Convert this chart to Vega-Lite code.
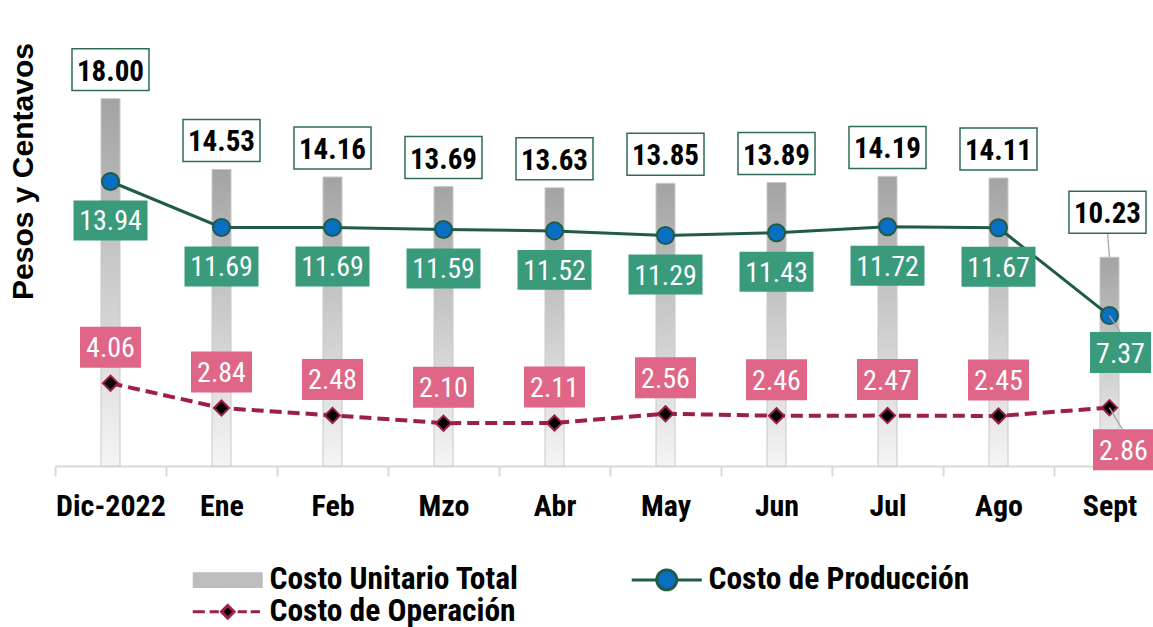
{
  "$schema": "https://vega.github.io/schema/vega-lite/v6.json",
  "width": 1098,
  "height": 449,
  "autosize": {"type": "none"},
  "padding": {"left": 55, "top": 17, "right": 0, "bottom": 161},
  "background": "white",
  "config": {"view": {"stroke": null}},
  "title": {
    "text": "Pesos y Centavos", "orient": "left", "anchor": "middle", "frame": "group",
    "font": "Liberation Sans", "fontSize": 30, "fontWeight": "bold", "color": "black",
    "offset": 15, "dx": 70
  },
  "layer": [
    {
      "data": {"values": [
        {"mes": "Dic-2022", "total": 18.00, "prod": 13.94, "oper": 4.06},
        {"mes": "Ene", "total": 14.53, "prod": 11.69, "oper": 2.84},
        {"mes": "Feb", "total": 14.16, "prod": 11.69, "oper": 2.48},
        {"mes": "Mzo", "total": 13.69, "prod": 11.59, "oper": 2.10},
        {"mes": "Abr", "total": 13.63, "prod": 11.52, "oper": 2.11},
        {"mes": "May", "total": 13.85, "prod": 11.29, "oper": 2.56},
        {"mes": "Jun", "total": 13.89, "prod": 11.43, "oper": 2.46},
        {"mes": "Jul", "total": 14.19, "prod": 11.72, "oper": 2.47},
        {"mes": "Ago", "total": 14.11, "prod": 11.67, "oper": 2.45},
        {"mes": "Sept", "total": 10.23, "prod": 7.37, "oper": 2.86}
      ]},
      "encoding": {
        "x": {
          "field": "mes", "type": "nominal", "sort": null,
          "scale": {"range": [0, 1110], "paddingInner": 0, "paddingOuter": 0},
          "axis": {
            "title": null, "labelAngle": 0, "labelFont": "Roboto Condensed, DejaVu Sans Condensed, Liberation Sans", "labelFontSize": 30,
            "labelFontWeight": "bold", "labelColor": "black", "labelPadding": 15,
            "domainColor": "#d9d9d9", "domainWidth": 2, "tickColor": "#d9d9d9", "tickWidth": 2,
            "tickSize": 10, "tickBand": "extent", "grid": false
          }
        }
      },
      "layer": [
        {
          "mark": {
            "type": "bar", "width": 19,
            "fill": {"gradient": "linear", "x1": 0, "y1": 0, "x2": 0, "y2": 1,
              "stops": [{"offset": 0, "color": "#a3a3a3"}, {"offset": 1, "color": "#f5f5f5"}]},
            "stroke": "#c8c8c8", "strokeWidth": 1
          },
          "encoding": {
            "y": {
              "field": "total", "type": "quantitative", "title": null,
              "scale": {"domain": [0, 22], "nice": false, "zero": true},
              "axis": {
                "orient": "left", "title": null, "labels": false, "ticks": false, "domain": false,
                "grid": true, "gridColor": "#d9d9d9", "gridWidth": 2,
                "values": [2, 4, 6, 8, 10, 12, 14, 16, 18, 20, 22]
              }
            }
          }
        },
        {
          "mark": {"type": "line", "stroke": "#1f5b47", "strokeWidth": 3},
          "encoding": {"y": {"field": "prod", "type": "quantitative", "axis": null}}
        },
        {
          "mark": {"type": "line", "stroke": "#9d1e48", "strokeWidth": 4, "strokeDash": [12, 6]},
          "encoding": {"y": {"field": "oper", "type": "quantitative", "axis": null}}
        },
        {
          "mark": {"type": "point", "shape": "circle", "filled": true, "fill": "#0a6fc2", "stroke": "#1f5b47", "strokeWidth": 2, "size": 290, "opacity": 1},
          "encoding": {"y": {"field": "prod", "type": "quantitative", "axis": null}}
        },
        {
          "mark": {"type": "point", "shape": "diamond", "filled": true, "fill": "black", "stroke": "#9d1e48", "strokeWidth": 2, "size": 230, "opacity": 1},
          "encoding": {"y": {"field": "oper", "type": "quantitative", "axis": null}}
        },
        {
          "transform": [{"filter": "datum.mes !== 'Sept'"}],
          "layer": [
            {
              "mark": {"type": "point", "filled": true, "fill": "white", "stroke": "#2e6b57", "strokeWidth": 1.5, "opacity": 1,
                "shape": "M-1,-0.545H1V0.545H-1Z", "size": 5929, "yOffset": -29},
              "encoding": {"y": {"field": "total", "type": "quantitative", "axis": null}}
            },
            {
              "mark": {"type": "text", "font": "Roboto Condensed, DejaVu Sans Condensed, Liberation Sans", "fontSize": 29, "fontWeight": "bold", "color": "black", "baseline": "middle", "align": "center", "dy": -27},
              "encoding": {"y": {"field": "total", "type": "quantitative", "axis": null}, "text": {"field": "total", "type": "quantitative", "format": ".2f"}}
            },
            {
              "mark": {"type": "point", "filled": true, "fill": "#3a9a7c", "strokeWidth": 0, "opacity": 1,
                "shape": "M-1,-0.54H1V0.54H-1Z", "size": 5476, "yOffset": 39},
              "encoding": {"y": {"field": "prod", "type": "quantitative", "axis": null}}
            },
            {
              "mark": {"type": "text", "font": "Roboto Condensed, DejaVu Sans Condensed, Liberation Sans", "fontSize": 28, "color": "white", "baseline": "middle", "align": "center", "dy": 41},
              "encoding": {"y": {"field": "prod", "type": "quantitative", "axis": null}, "text": {"field": "prod", "type": "quantitative", "format": ".2f"}}
            },
            {
              "mark": {"type": "point", "filled": true, "fill": "#e06687", "strokeWidth": 0, "opacity": 1,
                "shape": "M-1,-0.672H1V0.672H-1Z", "size": 3721, "yOffset": -36},
              "encoding": {"y": {"field": "oper", "type": "quantitative", "axis": null}}
            },
            {
              "mark": {"type": "text", "font": "Roboto Condensed, DejaVu Sans Condensed, Liberation Sans", "fontSize": 28, "color": "white", "baseline": "middle", "align": "center", "dy": -34},
              "encoding": {"y": {"field": "oper", "type": "quantitative", "axis": null}, "text": {"field": "oper", "type": "quantitative", "format": ".2f"}}
            }
          ]
        },
        {
          "transform": [{"filter": "datum.mes === 'Sept'"}],
          "layer": [
            {
              "mark": {"type": "rule", "color": "#a6a6a6", "strokeWidth": 1.3, "y2Offset": -25, "x2Offset": -2},
              "encoding": {"y": {"field": "total", "type": "quantitative", "axis": null}, "y2": {"field": "total"}, "x2": {"field": "mes"}}
            },
            {
              "mark": {"type": "rule", "color": "#a6a6a6", "strokeWidth": 1.3, "y2Offset": 17, "x2Offset": 11},
              "encoding": {"y": {"field": "prod", "type": "quantitative", "axis": null}, "y2": {"field": "prod"}, "x2": {"field": "mes"}}
            },
            {
              "mark": {"type": "rule", "color": "#a6a6a6", "strokeWidth": 1.3, "y2Offset": 22, "x2Offset": 13},
              "encoding": {"y": {"field": "oper", "type": "quantitative", "axis": null}, "y2": {"field": "oper"}, "x2": {"field": "mes"}}
            },
            {
              "mark": {"type": "point", "filled": true, "fill": "white", "stroke": "#2e6b57", "strokeWidth": 1.5, "opacity": 1,
                "shape": "M-1,-0.545H1V0.545H-1Z", "size": 5929, "yOffset": -45, "xOffset": -2},
              "encoding": {"y": {"field": "total", "type": "quantitative", "axis": null}}
            },
            {
              "mark": {"type": "text", "font": "Roboto Condensed, DejaVu Sans Condensed, Liberation Sans", "fontSize": 29, "fontWeight": "bold", "color": "black", "baseline": "middle", "align": "center", "dy": -43, "dx": -2},
              "encoding": {"y": {"field": "total", "type": "quantitative", "axis": null}, "text": {"field": "total", "type": "quantitative", "format": ".2f"}}
            },
            {
              "mark": {"type": "point", "filled": true, "fill": "#3a9a7c", "strokeWidth": 0, "opacity": 1,
                "shape": "M-1,-0.672H1V0.672H-1Z", "size": 3721, "yOffset": 37, "xOffset": 11},
              "encoding": {"y": {"field": "prod", "type": "quantitative", "axis": null}}
            },
            {
              "mark": {"type": "text", "font": "Roboto Condensed, DejaVu Sans Condensed, Liberation Sans", "fontSize": 28, "color": "white", "baseline": "middle", "align": "center", "dy": 39, "dx": 11},
              "encoding": {"y": {"field": "prod", "type": "quantitative", "axis": null}, "text": {"field": "prod", "type": "quantitative", "format": ".2f"}}
            },
            {
              "mark": {"type": "point", "filled": true, "fill": "#e06687", "strokeWidth": 0, "opacity": 1,
                "shape": "M-1,-0.672H1V0.672H-1Z", "size": 3721, "yOffset": 42, "xOffset": 14},
              "encoding": {"y": {"field": "oper", "type": "quantitative", "axis": null}}
            },
            {
              "mark": {"type": "text", "font": "Roboto Condensed, DejaVu Sans Condensed, Liberation Sans", "fontSize": 28, "color": "white", "baseline": "middle", "align": "center", "dy": 44, "dx": 14},
              "encoding": {"y": {"field": "oper", "type": "quantitative", "axis": null}, "text": {"field": "oper", "type": "quantitative", "format": ".2f"}}
            }
          ]
        }
      ]
    },
    {
      "data": {"values": [
        {"serie": "Costo Unitario Total"},
        {"serie": "Costo de Producción"},
        {"serie": "Costo de Operación"}
      ]},
      "mark": {"type": "point", "filled": true, "opacity": 0},
      "encoding": {
        "fill": {
          "field": "serie", "type": "nominal", "sort": null,
          "scale": {
            "domain": ["Costo Unitario Total", "Costo de Producción", "Costo de Operación"],
            "range": ["#bdbdbd", "#0a6fc2", "black"]
          },
          "legend": {
            "title": null, "orient": "none", "legendX": 157, "legendY": 547, "columns": 2,
            "direction": "horizontal",
            "labelFont": "Roboto Condensed, DejaVu Sans Condensed, Liberation Sans", "labelFontSize": 31.5, "labelFontWeight": "bold", "labelColor": "black",
            "labelLimit": 400,
            "symbolSize": 784, "symbolStrokeWidth": 3, "symbolOpacity": 1,
            "labelOffset": 26, "columnPadding": 106, "rowPadding": -2, "padding": 0
          }
        },
        "stroke": {
          "field": "serie", "type": "nominal", "sort": null,
          "scale": {
            "domain": ["Costo Unitario Total", "Costo de Producción", "Costo de Operación"],
            "range": ["transparent", "#1f5b47", "#9d1e48"]
          },
          "legend": {
            "title": null, "orient": "none", "legendX": 157, "legendY": 547, "columns": 2,
            "direction": "horizontal",
            "labelFont": "Roboto Condensed, DejaVu Sans Condensed, Liberation Sans", "labelFontSize": 31.5, "labelFontWeight": "bold", "labelColor": "black",
            "labelLimit": 400,
            "symbolSize": 784, "symbolStrokeWidth": 3, "symbolOpacity": 1,
            "labelOffset": 26, "columnPadding": 106, "rowPadding": -2, "padding": 0
          }
        },
        "shape": {
          "field": "serie", "type": "nominal", "sort": null,
          "scale": {
            "domain": ["Costo Unitario Total", "Costo de Producción", "Costo de Operación"],
            "range": [
              "M-2.5,-0.57H2.5V0.57H-2.5Z",
              "M-2.5,0H-0.71M0.71,0H2.5M-0.71,0A0.71,0.71,0,1,1,0.71,0A0.71,0.71,0,1,1,-0.71,0Z",
              "M-2.5,0H-1.64M-1.29,0H-0.64M0.71,0H1.36M1.64,0H2.3M0,-0.45L0.45,0L0,0.45L-0.45,0Z"
            ]
          },
          "legend": {
            "title": null, "orient": "none", "legendX": 157, "legendY": 547, "columns": 2,
            "direction": "horizontal",
            "labelFont": "Roboto Condensed, DejaVu Sans Condensed, Liberation Sans", "labelFontSize": 31.5, "labelFontWeight": "bold", "labelColor": "black",
            "labelLimit": 400,
            "symbolSize": 784, "symbolStrokeWidth": 3, "symbolOpacity": 1,
            "labelOffset": 26, "columnPadding": 106, "rowPadding": -2, "padding": 0
          }
        }
      }
    }
  ]
}
